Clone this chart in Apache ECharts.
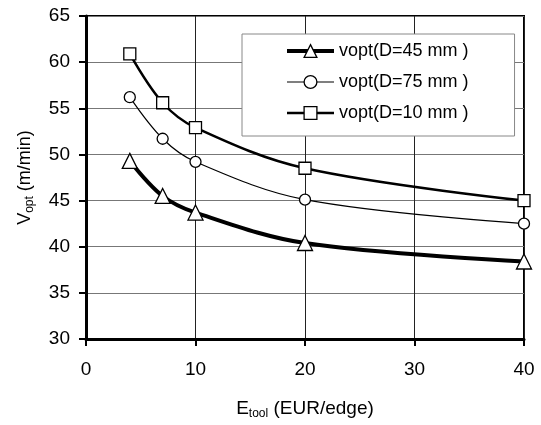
<!DOCTYPE html>
<html>
<head>
<meta charset="utf-8">
<script src="https://cdn.jsdelivr.net/npm/echarts@6/dist/echarts.min.js"></script>
<style>
html,body{margin:0;padding:0;background:#fff;}
#chart{width:541px;height:425px;}
</style>
</head>
<body>
<div id="chart"></div>
<script>
const xValues = [4, 7, 10, 20, 40];
const vD45 = [49.3, 45.5, 43.7, 40.4, 38.4];
const vD75 = [56.2, 51.7, 49.2, 45.1, 42.5];
const vD10 = [60.9, 55.6, 52.9, 48.5, 45.0];
const seriesNames = ['vopt(D=45 mm )', 'vopt(D=75 mm )', 'vopt(D=10 mm )'];
const lineWidths = [4, 1.2, 2.5];

function pairs(ys) { return xValues.map((x, i) => [x, ys[i]]); }

const FONT = 'Liberation Sans, Arial, sans-serif';
const chart = echarts.init(document.getElementById('chart'), null, {renderer: 'canvas'});

function mk(name, data, symbol, size, lw) {
  return {
    name: name, type: 'line', data: pairs(data),
    smooth: 0.35,
    symbol: symbol, symbolSize: size, showAllSymbol: true,
    lineStyle: {color: '#000', width: lw},
    itemStyle: {color: '#fff', borderColor: '#000', borderWidth: 1.3},
    emphasis: {disabled: true},
    z: 3
  };
}

chart.setOption({
  animation: false,
  backgroundColor: '#fff',
  textStyle: {fontFamily: FONT},
  grid: {left: 86, right: 17, top: 16, bottom: 81, show: true, borderColor: '#000', borderWidth: 2, backgroundColor: 'transparent'},
  legend: {
    data: seriesNames.map((n, i) => ({name: n, lineStyle: {width: lineWidths[i], color: '#000'}, itemStyle: {color: '#fff', borderColor: '#000', borderWidth: 1.3}})),
    orient: 'vertical',
    left: 242, top: 34,
    backgroundColor: '#fff',
    borderColor: '#888', borderWidth: 1,
    padding: [8, 46, 14, 43],
    itemWidth: 47, itemHeight: 16, itemGap: 13,
    textStyle: {fontFamily: FONT, fontSize: 18, color: '#000'},
    z: 10
  },
  xAxis: {
    type: 'value', min: 0, max: 40, interval: 10,
    name: '{m|E}{s|tool}{m| (EUR/edge)}',
    nameLocation: 'middle', nameGap: 60,
    nameTextStyle: {rich: {m: {fontSize: 19, fontFamily: FONT, color: '#000', verticalAlign: 'bottom'}, s: {fontSize: 12, fontFamily: FONT, color: '#000', verticalAlign: 'bottom', padding: [0, 0, -2, 0]}}},
    axisLine: {lineStyle: {color: '#000', width: 3}},
    axisTick: {show: true, inside: false, length: 7, lineStyle: {color: '#000', width: 2}},
    axisLabel: {fontSize: 19, color: '#000', margin: 21, fontFamily: FONT},
    splitLine: {show: true, lineStyle: {color: '#222', width: 1}}
  },
  yAxis: {
    type: 'value', min: 30, max: 65, interval: 5,
    name: '{m|V}{s|opt}{m| (m/min)}',
    nameLocation: 'middle', nameGap: 52, nameRotate: 90,
    nameTextStyle: {rich: {m: {fontSize: 18, fontFamily: FONT, color: '#000', verticalAlign: 'bottom'}, s: {fontSize: 12, fontFamily: FONT, color: '#000', verticalAlign: 'bottom', padding: [0, 0, -2, 0]}}},
    axisLine: {show: true, lineStyle: {color: '#000', width: 3}},
    axisTick: {show: true, inside: false, length: 7, lineStyle: {color: '#000', width: 2}},
    axisLabel: {fontSize: 19, color: '#000', margin: 16, fontFamily: FONT},
    splitLine: {show: true, lineStyle: {color: '#777', width: 1}}
  },
  series: [
    mk(seriesNames[0], vD45, 'triangle', 15, lineWidths[0]),
    mk(seriesNames[1], vD75, 'circle', 11, lineWidths[1]),
    mk(seriesNames[2], vD10, 'rect', 12, lineWidths[2])
  ]
});
</script>
</body>
</html>
